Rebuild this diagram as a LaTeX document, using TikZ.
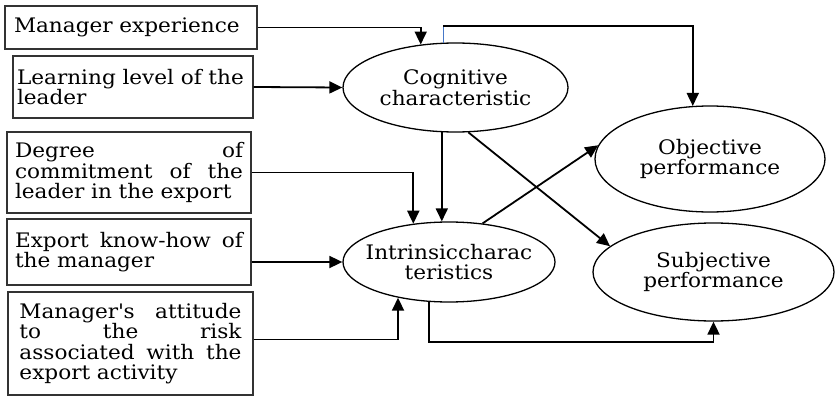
\documentclass[tikz,border=0pt]{standalone}
\usepackage{fontspec}
\setmainfont{DejaVu Serif}[FakeStretch=1.08]
\usetikzlibrary{arrows.meta,shapes.geometric}
\tikzset{every picture/.style={line width=0.75pt}}
\definecolor{linkblue}{RGB}{70,120,200}
\tikzset{
  factor/.style={draw=black!80, line width=1.2pt, inner sep=0pt, align=left,
    font=\fontsize{20pt}{20.5pt}\selectfont},
  construct/.style={ellipse, draw, line width=1.3pt, inner sep=0pt, align=center,
    font=\fontsize{20pt}{20.5pt}\selectfont},
  link/.style={line width=1.8pt, -{Triangle[length=13pt,width=12pt]}},
}
\newcommand{\spread}[1]{\makebox[\linewidth][s]{\spaceskip=.33em plus 1fil\relax #1}}

\begin{document}
\begin{tikzpicture}[x=1pt,y=-1pt]
    \useasboundingbox (0,0) rectangle (835,396);

    % 左侧因素框
    \node[factor, minimum width=252, minimum height=43, text width=234pt] (exp) at (131,27.5) {Manager experience};
    \node[factor, minimum width=240, minimum height=62, text width=232pt] (lead) at (133,87) {Learning level of the\\leader};
    \node[factor, minimum width=244, minimum height=81, text width=228pt] (deg) at (129,172.5)
        {\spread{Degree of}\\\spread{commitment of the}\\leader in the export};
    \node[factor, minimum width=244, minimum height=66, text width=228pt] (know) at (129,252)
        {\spread{Export know-how of}\\the manager};
    \node[factor, minimum width=245, minimum height=103, text width=222pt] (att) at (130.5,343.5)
        {\spread{Manager\textquotesingle s attitude}\\\spread{to the risk}\\\spread{associated with the}\\export activity};

    % 特征与绩效椭圆
    \node[construct, minimum width=225, minimum height=89] (cog) at (455.5,87.5) {Cognitive\\characteristic};
    \node[construct, inner xsep=-12pt, minimum width=212, minimum height=80] (intr) at (449,262) {Intrinsiccharac\\teristics};
    \node[construct, minimum width=230, minimum height=106] (obj) at (710,159) {Objective\\performance};
    \node[construct, minimum width=241, minimum height=98] (subj) at (713.5,272) {Subjective\\performance};

    % 因素指向特征
    \draw[link] (exp.east) -| (cog.129);
    \draw[link] (lead.east) -- (cog.west);
    \draw[link] (deg.east) -| (intr.133);
    \draw[link] (intr.west -| know.east) -- (intr.west);
    \draw[link] ([yshift=4pt]att.east) -| (intr.215);

    % 特征指向绩效
    \coordinate (bend) at (444,26);
    \draw[linkblue, line width=1.2pt] (cog.105) -- (cog.105 |- bend);
    \draw[link] (cog.105 |- bend) -| (obj.108);
    \draw[link] (cog.253) -- (cog.253 |- intr.north);
    \draw[link] (cog.286) -- (subj.166);
    \draw[link] (intr.49) -- (obj.173);
    \coordinate (low) at (0,342);
    \draw[link] (intr.243) |- (subj.south |- low) -- (subj.south);
\end{tikzpicture}
\end{document}
